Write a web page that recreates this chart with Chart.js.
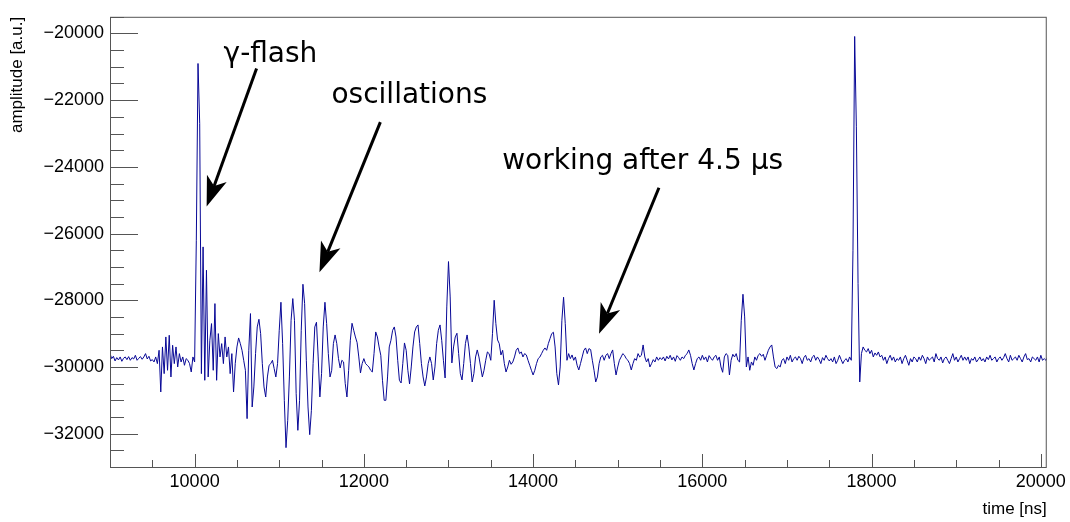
<!DOCTYPE html>
<html>
<head>
<meta charset="utf-8">
<title>PMT waveform</title>
<script src="https://cdn.jsdelivr.net/npm/chart.js@4.4.1/dist/chart.umd.min.js"></script>
<style>
  html, body { margin: 0; padding: 0; background: #fff; }
  #wrap { width: 1070px; height: 522px; }
</style>
</head>
<body>
<div id="wrap"><canvas id="waveform" width="1070" height="522"></canvas></div>
<script>
// digitizer trace: one sample every 20 ns starting at 9000 ns
const sampleStartNs = 9000;
const samplePeriodNs = 20;

const amplitude = [
  -29600, -29750, -29680, -29820, -29720, -29790, -29700, -29830, -29740, -29700,
  -29780, -29690, -29800, -29720, -29760, -29650, -29800, -29740, -29690, -29770,
  -29700, -29600, -29760, -29680, -29820, -29780, -29850, -29700, -29900,
  -29500, -30750, -29400, -30200, -29100, -30100, -29050, -30300, -29350, -29900,
  -29400, -30000, -29600, -29850, -29700, -29950, -29750, -29800, -29900, -30150,
  -29700, -29850, -26200, -20900, -22700, -30200, -26400, -30400, -27100, -30300,
  -29200, -28700, -30100, -28100, -30400, -29000, -29700, -29300, -29900, -29100,
  -29700, -29400, -30200, -29600, -30750, -29900, -29400, -29130, -29300, -29500,
  -29800, -30100, -31550, -29500, -28400, -31200, -30600, -29600, -28800, -28570,
  -29000, -29900, -30600, -30900, -30300, -29950, -29900, -29800, -30050, -30300,
  -29900, -28900, -28060, -29300, -31000, -32420, -31600, -30300, -28600, -27950,
  -28600, -30800, -31900, -31000, -28900, -27520, -28100, -29800, -31200, -32030,
  -31300, -29900, -28800, -28660, -29700, -30900, -30200, -28800, -28060, -28700,
  -29600, -30300, -30100, -29300, -29040, -29300, -29750, -30030, -29800, -29850,
  -30500, -30900, -30100, -29200, -28690, -28900, -29100, -29270, -29700, -30180,
  -29900, -29750, -29900, -29950, -30000, -30100, -30150, -29600, -28950, -29100,
  -29400, -29650, -30400, -31000, -31000, -30300, -29400, -29200, -28900, -28800,
  -29100, -29800, -30400, -30480, -29900, -29280, -29500, -30100, -30510, -30000,
  -29400, -28950, -28800, -28740, -29300, -29900, -30300, -30570, -30300, -29900,
  -29700, -29900, -30390, -30000, -29300, -28900, -28740, -29200, -29800, -30330,
  -28200, -26840, -27900, -29880, -29400, -29100, -28990, -29600, -30200,
  -30390, -29900, -29300, -29040, -29400, -29900, -30450, -30200, -29700, -29490,
  -29700, -30000, -30300, -30100, -29800, -29550, -29600, -29800, -29000, -28000,
  -28700, -29190, -29300, -29640, -29500, -29900, -30150, -30000, -29800, -29920,
  -29850, -29700, -29500, -29430, -29600, -29550, -29700, -29600, -29640, -29800,
  -29950, -30100, -30240, -30100, -29900, -29750, -29700, -29600, -29500, -29430,
  -29500, -29300, -29150, -29000, -28960, -29400, -30200, -30540, -30000, -28600,
  -27910, -28700, -29800, -29600, -29750, -29640, -29800, -29700, -29950, -30090,
  -29900, -29700, -29500, -29430, -29600, -29450, -29480, -29800, -30100, -30450,
  -30300, -29900, -29700, -29650, -29800, -29650, -29600, -29750, -29600, -29490,
  -29900, -30240, -30000, -29800, -29700, -29600, -29650, -29750, -29800,
  -29900, -30090, -29900, -29750, -29800, -29600, -29700, -29650, -29340, -29700,
  -29850, -29750, -30000, -29900, -29780, -29850, -29700, -29800, -29720, -29780,
  -29700, -29820, -29680, -29760, -29650, -29790, -29700, -29830, -29660, -29720,
  -29800, -29700, -29750, -29650, -29600, -29490, -29650, -29900, -30090, -29900,
  -29750, -29700, -29800, -29650, -29780, -29700, -29850, -29660, -29740, -29800,
  -29700, -29650, -29800, -29700, -30000, -30160, -29700, -29600, -29650, -30240,
  -29800, -29620, -29700, -29600, -29800, -29850, -28600, -27820, -28500, -30000,
  -29700, -30100, -29850, -29950, -29700, -29800, -29650, -29600, -29680, -29620,
  -29800, -29650, -29500, -29400, -29340, -29700, -30000, -30050, -29950,
  -30000, -29800, -29750, -29900, -29700, -29800, -29650, -29850, -29750, -29700,
  -29800, -29680, -29750, -29900, -29720, -29650, -29800, -29750, -29850, -29700,
  -29650, -29800, -29700, -29780, -29900, -29720, -29800, -29650, -29750, -29820,
  -29750, -29850, -29700, -29900, -29800, -29650, -29780, -29900, -29800, -29750,
  -29850, -29700, -29800, -26500, -20090, -22800, -27500, -30450, -29600, -29400,
  -29500, -29550, -29450, -29600, -29500, -29700, -29580, -29650, -29550, -29700,
  -29650, -29800, -29700, -29900, -29750, -29650, -29800, -29700, -29850, -29750,
  -29800, -29700, -29900, -29750, -29650, -29800, -29950, -29750, -29850, -29700,
  -29750, -29850, -29700, -29800, -29650, -29750, -29900, -29700, -29800, -29750,
  -29700, -29850, -29600, -29750, -29800, -29700, -29880, -29750, -29700, -29800,
  -29900, -29750, -29600, -29800, -29700, -29850, -29750, -29650, -29800, -29700,
  -29800, -29700, -29900, -29750, -29800, -29700, -29850, -29780, -29700, -29820,
  -29750, -29850, -29700, -29780, -29650, -29800, -29750, -29700, -29850, -29750,
  -29700, -29800, -29720, -29600, -29750, -29850, -29650, -29800, -29750, -29700,
  -29800, -29650, -29750, -29850, -29700, -29600, -29780, -29750, -29850, -29700,
  -29750, -29800, -29700, -29850, -29650, -29800, -29750, -29800, -29700
];

const xMajorTicks = [10000, 12000, 14000, 16000, 18000, 20000];
const yMajorTicks = [-20000, -22000, -24000, -26000, -28000, -30000, -32000];

// text labels with arrows, in data coordinates
const callouts = [
  { text: 'γ-flash', at: [10342, -20870], from: [10732, -21050], to: [10142, -25192] },
  { text: 'oscillations', at: [11617, -22093], from: [12195, -22659], to: [11475, -27159] },
  { text: 'working after 4.5 μs', at: [13634, -24059], from: [15487, -24626], to: [14779, -29006] }
];

const points = amplitude.map((a, i) => ({ x: sampleStartNs + i * samplePeriodNs, y: a }));

const labelFont = { family: '"Liberation Sans", Arial, sans-serif', size: 18 };
const titleFont = { family: '"Liberation Sans", Arial, sans-serif', size: 17 };
const fmt = v => (v < 0 ? '\u2212' + Math.abs(v) : String(v));

function drawArrow(ctx, x0, y0, x1, y1) {
  const ang = Math.atan2(y1 - y0, x1 - x0);
  const c = Math.cos(ang), s = Math.sin(ang);
  const headLen = 30, halfW = 10.5, notch = 22;
  const bx = x1 - c * notch, by = y1 - s * notch;
  const cx = x1 - c * headLen, cy = y1 - s * headLen;
  ctx.beginPath();
  ctx.moveTo(x0, y0);
  ctx.lineTo(bx, by);
  ctx.lineWidth = 3;
  ctx.stroke();
  ctx.beginPath();
  ctx.moveTo(x1, y1);
  ctx.lineTo(cx - s * halfW, cy + c * halfW);
  ctx.lineTo(bx, by);
  ctx.lineTo(cx + s * halfW, cy - c * halfW);
  ctx.closePath();
  ctx.fill();
}

// frame with inward ticks, then the callouts
const frameAndNotes = {
  id: 'frameAndNotes',
  afterDraw(chart) {
    const { ctx, chartArea: a } = chart;
    const xs = chart.scales.x, ys = chart.scales.y;
    ctx.save();
    ctx.strokeStyle = '#555';
    ctx.lineWidth = 1;
    ctx.strokeRect(a.left + 0.5, a.top + 0.5, a.right - a.left - 1, a.bottom - a.top);

    ctx.beginPath();
    for (let v = 9500; v <= xs.max; v += 500) {
      const px = Math.round(xs.getPixelForValue(v)) + 0.5;
      const len = v % 2000 === 0 ? 13 : 7;
      ctx.moveTo(px, a.bottom);
      ctx.lineTo(px, a.bottom - len);
    }
    for (let v = -33000; v <= ys.max; v += 500) {
      const py = Math.round(ys.getPixelForValue(v)) + 0.5;
      const len = v % 2000 === 0 ? 28 : 14;
      ctx.moveTo(a.left, py);
      ctx.lineTo(a.left + len, py);
    }
    ctx.stroke();

    ctx.fillStyle = '#000';
    ctx.strokeStyle = '#000';
    ctx.font = '28px "DejaVu Sans", sans-serif';
    ctx.textAlign = 'left';
    ctx.textBaseline = 'alphabetic';
    callouts.forEach(c => {
      ctx.fillText(c.text, xs.getPixelForValue(c.at[0]), ys.getPixelForValue(c.at[1]));
      drawArrow(ctx,
        xs.getPixelForValue(c.from[0]), ys.getPixelForValue(c.from[1]),
        xs.getPixelForValue(c.to[0]), ys.getPixelForValue(c.to[1]));
    });
    ctx.restore();
  }
};

new Chart(document.getElementById('waveform'), {
  type: 'line',
  data: {
    datasets: [{
      data: points,
      borderColor: 'rgb(8,8,150)',
      borderWidth: 1,
      pointRadius: 0,
      tension: 0,
      fill: false
    }]
  },
  options: {
    responsive: false,
    animation: false,
    devicePixelRatio: 1,
    parsing: false,
    layout: { padding: { top: 14, right: 22, bottom: 0, left: 0 } },
    plugins: { legend: { display: false }, tooltip: { enabled: false } },
    scales: {
      x: {
        type: 'linear',
        min: 9000,
        max: 20070,
        afterBuildTicks: s => { s.ticks = xMajorTicks.map(v => ({ value: v })); },
        afterFit: s => { s.height = 55; },
        grid: { display: false, drawTicks: false },
        border: { display: false },
        ticks: { font: labelFont, color: '#000', padding: 4, maxRotation: 0, autoSkip: false, callback: fmt },
        title: { display: true, text: 'time [ns]', align: 'end', color: '#000', font: titleFont, padding: { top: 0, bottom: 2 } }
      },
      y: {
        type: 'linear',
        min: -33000,
        max: -19500,
        afterBuildTicks: s => { s.ticks = yMajorTicks.map(v => ({ value: v })); },
        afterFit: s => { s.width = 110; },
        grid: { display: false, drawTicks: false },
        border: { display: false },
        ticks: { font: labelFont, color: '#000', padding: 6, autoSkip: false, callback: fmt },
        title: { display: true, text: 'amplitude [a.u.]', align: 'end', color: '#000', font: titleFont, padding: { top: 7, bottom: 0 } }
      }
    }
  },
  plugins: [frameAndNotes]
});
</script>
</body>
</html>
